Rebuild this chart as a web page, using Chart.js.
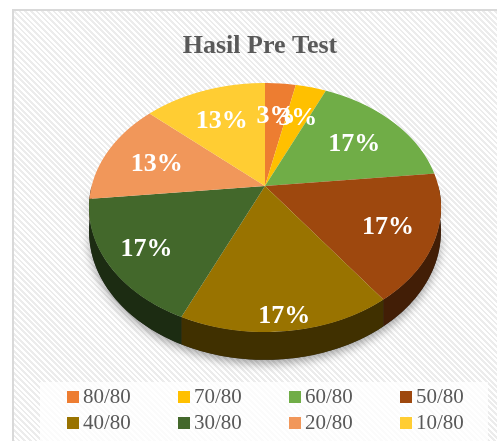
<!DOCTYPE html>
<html>
<head>
<meta charset="utf-8">
<script src="https://cdn.jsdelivr.net/npm/chart.js@4/dist/chart.umd.min.js"></script>
<style>
  html, body { margin: 0; padding: 0; width: 497px; height: 441px; overflow: hidden; background: #fff; }
  #box {
    position: absolute; left: 12px; top: 9px; width: 520px; height: 440px;
    border-left: 2px solid #d9d9d9; border-top: 2px solid #d9d9d9;
    background: repeating-linear-gradient(45deg, #ffffff 0px, #ffffff 2px, #ececec 2px, #ececec 4px);
  }
  #legendBg { position: absolute; left: 40px; top: 382px; width: 448px; height: 59px; background: rgba(255,255,255,0.8); }
  canvas { position: absolute; left: 14px; top: 11px; }
  #legend { position: absolute; left: 67px; top: 384px; font-family: "Liberation Serif", serif; font-size: 21px; color: #595959; }
  .item { position: absolute; display: flex; align-items: center; height: 25px; white-space: nowrap; }
  .sw { width: 12px; height: 12px; margin-right: 4px; }
</style>
</head>
<body>
<div id="box"></div>
<div id="legendBg"></div>
<canvas id="c" width="492" height="430"></canvas>
<div id="legend"></div>
<script>
const chartTitle = 'Hasil Pre Test';
const categories = ['80/80', '70/80', '60/80', '50/80', '40/80', '30/80', '20/80', '10/80'];
const students = [1, 1, 5, 5, 5, 5, 4, 4];
const colors = ['#ED7D31', '#FFC000', '#70AD47', '#9E480E', '#997300', '#43682B', '#F1975A', '#FFCD33'];

function darken(hex, k) {
  const n = parseInt(hex.slice(1), 16);
  const r = Math.round(((n >> 16) & 255) * k);
  const g = Math.round(((n >> 8) & 255) * k);
  const b = Math.round((n & 255) * k);
  return `rgb(${r},${g},${b})`;
}

// fake 3D: the flat pie is redrawn row by row with a perspective squash,
// side walls and labels use the same projection
const pie3d = {
  id: 'pie3d',
  beforeDatasetsDraw(chart, args, opts) {
    const ctx = chart.ctx;
    const arcs = chart.getDatasetMeta(0).data;
    if (!arcs.length) return;
    const ax = arcs[0].x, ay = arcs[0].y, r = arcs[0].outerRadius;
    const { cx, cy, a, b, p, depth } = opts;
    const proj = (u, v) => [cx + b * u / (1 - p * v), cy + a * v / (1 - p * v)];
    const wall = v => depth / (1 - p * v);
    const invV = y => (y - cy) / (a + p * (y - cy));

    const outline = (t0, t1, down) => {
      const pts = [];
      const n = Math.max(2, Math.ceil((t1 - t0) / 0.02));
      for (let j = 0; j <= n; j++) {
        const t = t0 + (t1 - t0) * j / n;
        const v = Math.sin(t);
        const [x, y] = proj(Math.cos(t), v);
        pts.push([x, y + (down ? wall(v) : 0)]);
      }
      return pts;
    };
    const sidePath = (t0, t1) => {
      const top = outline(t0, t1, false);
      const bot = outline(t0, t1, true).reverse();
      ctx.beginPath();
      top.concat(bot).forEach(([x, y], j) => j ? ctx.lineTo(x, y) : ctx.moveTo(x, y));
      ctx.closePath();
    };

    // shadow
    ctx.save();
    ctx.shadowColor = 'rgba(0,0,0,0.35)';
    ctx.shadowBlur = 10;
    ctx.shadowOffsetY = 4;
    sidePath(0, Math.PI);
    ctx.fillStyle = '#333';
    ctx.fill();
    ctx.restore();

    // side walls
    arcs.forEach((arc) => {
      const t0 = Math.max(arc.startAngle, 0);
      const t1 = Math.min(arc.endAngle, Math.PI);
      if (t1 <= t0) return;
      sidePath(t0, t1);
      ctx.fillStyle = darken(arc.options.backgroundColor, 0.42);
      ctx.fill();
    });

    // top face, one pixel row at a time
    const yTop = Math.floor(cy - a / (1 + p)) - 1;
    const yBot = Math.ceil(cy + a / (1 - p)) + 1;
    for (let Y = yTop; Y < yBot; Y++) {
      const v0 = invV(Y), v1 = invV(Y + 1), vm = (v0 + v1) / 2;
      const sx = b / (r * (1 - p * vm));
      const ky = 1 / (r * (v1 - v0));
      ctx.save();
      ctx.beginPath();
      ctx.rect(0, Y, chart.width, 1);
      ctx.clip();
      ctx.setTransform(sx, 0, 0, ky, cx - sx * ax, Y - ky * (ay + r * v0));
      arcs.forEach(el => el.draw(ctx));
      ctx.restore();
    }

    // percentage labels
    const total = students.reduce((s, v) => s + v, 0);
    ctx.save();
    ctx.font = 'bold 26px "Liberation Serif", serif';
    ctx.fillStyle = '#ffffff';
    ctx.textAlign = 'center';
    ctx.textBaseline = 'middle';
    arcs.forEach((el, i) => {
      const mid = (el.startAngle + el.endAngle) / 2;
      const s = Math.sin(mid), c = Math.cos(mid);
      const f = 0.68 + 0.22 * Math.pow(Math.max(0, s), 1.5);
      const [x, y] = proj(f * c, f * s);
      ctx.fillText(Math.round(students[i] / total * 100) + '%', x, y + 3);
    });
    ctx.restore();
    return false;
  }
};

new Chart(document.getElementById('c'), {
  type: 'pie',
  data: {
    labels: categories,
    datasets: [{
      data: students,
      backgroundColor: colors,
      borderWidth: 0
    }]
  },
  options: {
    responsive: false,
    animation: false,
    events: [],
    plugins: {
      title: {
        display: true,
        text: chartTitle,
        color: '#595959',
        font: { family: '"Liberation Serif", serif', size: 26, weight: 'bold' },
        padding: { top: 20, bottom: 10 }
      },
      legend: { display: false },
      tooltip: { enabled: false },
      pie3d: { cx: 251, cy: 175, a: 120.8, b: 173.3, p: 0.1727, depth: 23 }
    }
  },
  plugins: [pie3d]
});

// legend, 4 per row
const leg = document.getElementById('legend');
categories.forEach((name, i) => {
  const d = document.createElement('div');
  d.className = 'item';
  d.style.left = (i % 4) * 111 + 'px';
  d.style.top = Math.floor(i / 4) * 26 + 'px';
  d.innerHTML = `<span class="sw" style="background:${colors[i]}"></span>${name}`;
  leg.appendChild(d);
});
</script>
</body>
</html>
